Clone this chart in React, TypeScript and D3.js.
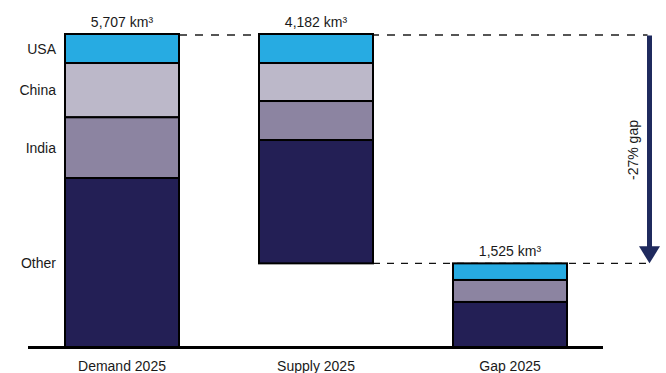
import React from "react";
import * as d3 from "d3";

// Water demand vs. supply, 2025 (km³)
const categories = ["Demand 2025", "Supply 2025", "Gap 2025"];
const segmentNames = ["USA", "China", "India", "Other"];
const demandValues = [529, 990, 1107, 3081];
const supplyValues = [529, 693, 711, 2249];
const gapValues = [303, 401, 821];
const totals = [5707, 4182, 1525];

const segmentColors = ["#27abe2", "#bcb8c9", "#8c84a1", "#231f55"];
const gapColors = ["#27abe2", "#8c84a1", "#231f55"];

const W = 666;
const H = 373;
const FONT = "'Liberation Sans', Arial, Helvetica, sans-serif";

export default function App() {
  const x = d3.scalePoint<string>().domain(categories).range([122, 510]);
  const barW = 114;
  const y = d3.scaleLinear().domain([0, totals[0]]).range([347, 34]);

  const fmt = d3.format(",");
  const gapPct = Math.round((-totals[2] / totals[0]) * 100);

  // stacked segments; the first bar sits on the axis, supply floats down from the demand top,
  // the gap closes the waterfall from zero
  const stack = (values: number[], base: number, colors: string[]) => {
    let top = base + d3.sum(values);
    return values.map((v, i) => {
      const seg = { y0: top - v, y1: top, color: colors[i] };
      top -= v;
      return seg;
    });
  };

  const bars = [
    { cat: categories[0], segs: stack(demandValues, 0, segmentColors), total: totals[0] },
    { cat: categories[1], segs: stack(supplyValues, totals[0] - totals[1], segmentColors), total: totals[1] },
    { cat: categories[2], segs: stack(gapValues, 0, gapColors), total: totals[2] },
  ];

  const demandSegs = bars[0].segs;
  const supplyBottom = y(totals[0] - totals[1]);
  const arrowX = 649.5;
  const gapTop = y(totals[2]);

  return (
    <svg
      width={W}
      height={H}
      style={{ position: "absolute", left: 0, top: 0, background: "#fff" }}
      fontFamily={FONT}
    >
      {/* reference lines */}
      <line
        x1={(x(categories[0]) as number) + barW / 2}
        x2={arrowX - 2}
        y1={y(totals[0]) + 1}
        y2={y(totals[0]) + 1}
        stroke="#555"
        strokeWidth={2}
        strokeDasharray="8 8"
      />
      <line
        x1={(x(categories[1]) as number) + barW / 2}
        x2={arrowX}
        y1={supplyBottom}
        y2={supplyBottom}
        stroke="#111"
        strokeWidth={1.4}
        strokeDasharray="7 7"
      />

      {/* bars */}
      {bars.map((b) => {
        const cx = x(b.cat) as number;
        return (
          <g key={b.cat}>
            {b.segs.map((s, i) => (
              <rect
                key={i}
                x={cx - barW / 2}
                y={y(s.y1)}
                width={barW}
                height={y(s.y0) - y(s.y1)}
                fill={s.color}
                stroke="#000"
                strokeWidth={2}
              />
            ))}
            <text
              x={cx}
              y={y(b.segs[0].y1) - 7}
              textAnchor="middle"
              fontSize={14}
              fill="#1a1a1a"
            >
              {fmt(b.total)} km³
            </text>
            <text x={cx} y={370.5} textAnchor="middle" fontSize={14} fill="#1a1a1a">
              {b.cat}
            </text>
          </g>
        );
      })}

      {/* baseline */}
      <line x1={28} x2={603} y1={347.5} y2={347.5} stroke="#000" strokeWidth={3} />

      {/* segment labels */}
      {demandSegs.map((s, i) => (
        <text
          key={segmentNames[i]}
          x={56}
          y={(y(s.y0) + y(s.y1)) / 2}
          dy="0.36em"
          textAnchor="end"
          fontSize={14}
          fill="#1a1a1a"
        >
          {segmentNames[i]}
        </text>
      ))}

      {/* gap arrow */}
      <rect x={arrowX - 2.5} y={y(totals[0]) + 1.5} width={5} height={gapTop - 16 - y(totals[0])} fill="#1f2a5e" />
      <path
        d={`M${arrowX - 10.5},${gapTop - 17} L${arrowX + 10.5},${gapTop - 17} L${arrowX},${gapTop} Z`}
        fill="#1f2a5e"
      />
      <text
        transform={`translate(638,150) rotate(-90)`}
        textAnchor="middle"
        fontSize={14}
        fill="#1a1a1a"
      >
        {gapPct}% gap
      </text>
    </svg>
  );
}
